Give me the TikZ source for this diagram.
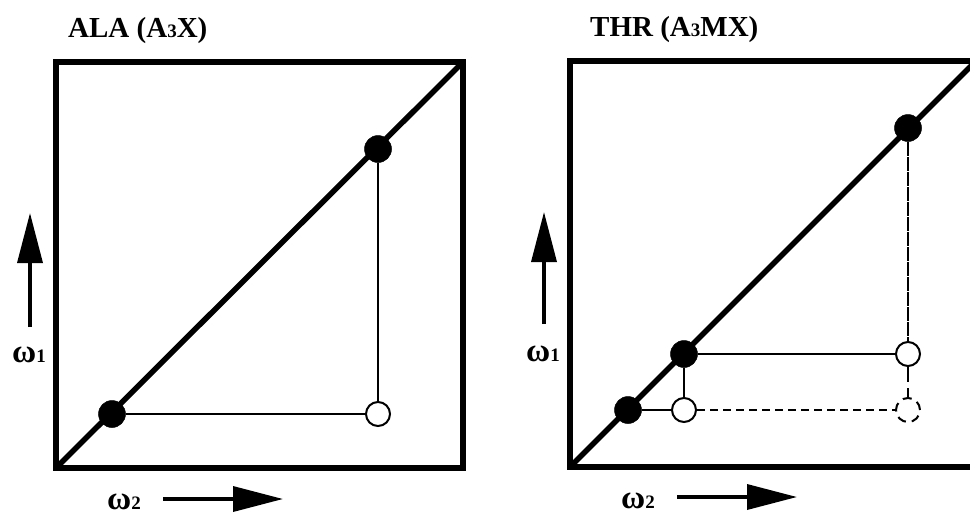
\documentclass[tikz,border=0pt]{standalone}
\usepackage{fontspec}
\setmainfont{Liberation Serif}
\usetikzlibrary{arrows.meta}
\tikzset{
  frame/.style={line width=6pt, line join=miter},
  diag/.style={line width=5.5pt},
  thin/.style={line width=2pt},
  dashline/.style={line width=2pt, dash pattern=on 8pt off 5pt},
  fdot/.style={circle, fill=black, draw=black, line width=0.5pt, inner sep=0pt, minimum size=27pt},
  odot/.style={circle, fill=white, draw=black, line width=2pt, inner sep=0pt, minimum size=24pt},
  ddot/.style={circle, fill=white, draw=black, line width=2pt, dash pattern=on 9pt off 6pt, inner sep=0pt, minimum size=24pt},
  axarrow/.style={line width=3.5pt, -{Triangle[length=50pt,width=25pt]}},
  title/.style={inner sep=0pt, anchor=base west, font=\bfseries\fontsize{29}{30}\selectfont},
  axlabel/.style={inner sep=0pt, anchor=base west, font=\bfseries\fontsize{33}{33}\selectfont},
}
\newcommand{\smalldig}[1]{{\fontsize{19}{19}\selectfont #1}}
\begin{document}
\begin{tikzpicture}[x=1pt,y=-1pt]
\useasboundingbox (0,0) rectangle (970,515);
% ---------- left panel ----------
\coordinate (LBL) at (56,468);
\coordinate (LTR) at (463,62);
\draw[frame] (LBL) rectangle (LTR);
\draw[diag] (LBL) -- (LTR);
\node[fdot] (la) at (378,149) {};
\node[fdot] (lb) at (112,414) {};
\node[odot] (lc) at (378,414) {};
\draw[thin] (la) -- (lc);
\draw[thin] (lb) -- (lc);
\node[title] (lt) at (68,37) {ALA (A\smalldig{3}X)};
\node[axlabel] (lw1) at (12,362) {ω\smalldig{1}};
\node[axlabel] (lw2) at (107,509) {ω\smalldig{2}};
\coordinate (la1s) at (30,327);
\coordinate (la1e) at (30,213);
\draw[axarrow] (la1s) -- (la1e);
\coordinate (la2s) at (163,499);
\coordinate (la2e) at (283,499);
\draw[axarrow] (la2s) -- (la2e);
% ---------- right panel ----------
\coordinate (RBL) at (570,467);
\coordinate (RTR) at (976,61);
\draw[frame] (RBL) rectangle (RTR);
\draw[diag] (RBL) -- (RTR);
\node[fdot] (d1) at (628,410) {};
\node[fdot] (d2) at (684,354) {};
\node[fdot] (d3) at (908,128) {};
\node[odot] (o1) at (684,410) {};
\node[odot] (o2) at (908,354) {};
\node[ddot] (c1) at (908,410) {};
\draw[thin] (d1) -- (o1);
\draw[thin] (d2) -- (o1);
\draw[thin] (d2) -- (o2);
\draw[line width=2pt, dash pattern=on 14pt off 1pt] (d3) -- (o2);
\draw[dashline] (o1) -- (c1);
\draw[dashline, dash pattern=on 15pt off 6pt] (o2) -- (c1);
\node[title] (rt) at (590,36) {THR (A\smalldig{3}MX)};
\node[axlabel] (rw1) at (526,361) {ω\smalldig{1}};
\node[axlabel] (rw2) at (621,508) {ω\smalldig{2}};
\coordinate (ra1s) at (544,324);
\coordinate (ra1e) at (544,212);
\draw[axarrow] (ra1s) -- (ra1e);
\coordinate (ra2s) at (677,497);
\coordinate (ra2e) at (797,497);
\draw[axarrow] (ra2s) -- (ra2e);
\end{tikzpicture}
\end{document}
